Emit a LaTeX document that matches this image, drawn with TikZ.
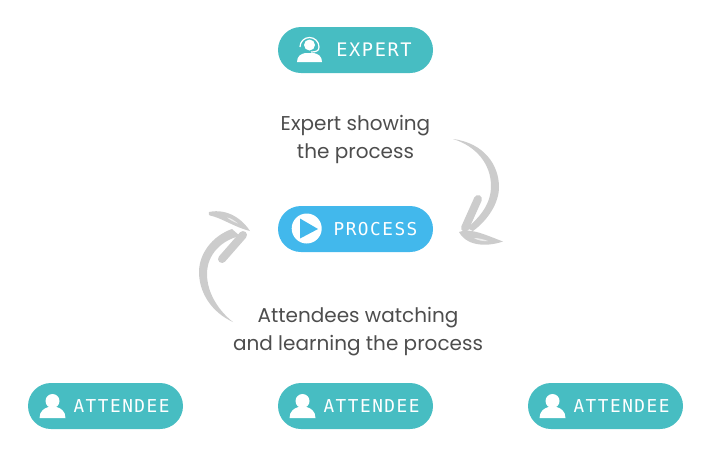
\documentclass[tikz,border=0pt]{standalone}
\usepackage{fontspec}
\setmainfont{Poppins}
\newfontfamily\buttonfont[LetterSpace=8.5]{DejaVu Sans Mono}
\definecolor{tealpill}{HTML}{47BDC2}
\definecolor{bluepill}{HTML}{42B8EC}
\definecolor{sketch}{HTML}{CCCCCC}
\definecolor{caption}{HTML}{4D4D4D}
\newcommand{\personicon}[2]{
	\fill [white] (#1,#2-5) circle (7);
	\fill [white] (#1-13,#2+12) .. controls (#1-13,#2+5) and (#1-8,#2+2) .. (#1-4,#2+1) -- (#1+4,#2+1) .. controls (#1+8,#2+2) and (#1+13,#2+5) .. (#1+13,#2+12) -- cycle;
}
\begin{document}
\begin{tikzpicture}[x=0.75pt,y=-0.75pt]
		\tikzstyle{pill}=[rounded corners=17.25pt,minimum width=116.25pt,minimum height=34.5pt,inner sep=0pt]
		\tikzstyle{teal-pill}=[pill,fill=tealpill]
		\tikzstyle{blue-pill}=[pill,fill=bluepill]
		\tikzstyle{pill-text}=[text=white,font=\buttonfont\fontsize{13.3}{15}\selectfont,inner sep=0pt]
		\tikzstyle{caption-text}=[text=caption,align=center,font=\fontsize{15}{21}\selectfont,inner sep=0pt]
		\useasboundingbox (0,0) rectangle (714,454);
		% expert
		\node [teal-pill] at (355.5,50) (expert) {};
		\node [pill-text,font=\buttonfont\fontsize{14}{15}\selectfont] at (374,50) (expert-text) {EXPERT};
		\fill [white] (309.5,45) circle (5.5);
		\fill [white] (297,62) .. controls (297,56) and (301,54) .. (305,53) -- (314,53) .. controls (318,54) and (322,56) .. (322,62) -- cycle;
		\draw [white,line width=0.9pt] (300,47) arc (180:360:9.5);
		\draw [white,line width=0.9pt] (319,47) .. controls (319,51) and (316,52) .. (311,52);
		% process
		\node [blue-pill] at (355.5,229) (process) {};
		\node [pill-text] at (375.5,229) (process-text) {PROCESS};
		\node [circle,fill=white,minimum size=22.5pt,inner sep=0pt] at (306.7,228.5) (play) {};
		\fill [bluepill] (300,218.5) -- (318,229) -- (300,238.5) -- cycle;
		% attendees
		\node [teal-pill] at (105.5,406) (attendee1) {};
		\node [pill-text] at (121.5,406) (attendee1-text) {ATTENDEE};
		\personicon{52.5}{406}
		\node [teal-pill] at (355.5,406) (attendee2) {};
		\node [pill-text] at (371.5,406) (attendee2-text) {ATTENDEE};
		\personicon{302.5}{406}
		\node [teal-pill] at (605.5,406) (attendee3) {};
		\node [pill-text] at (621.5,406) (attendee3-text) {ATTENDEE};
		\personicon{552.5}{406}
		% captions
		\node [caption-text] at (355.5,139) (showing) {Expert showing\\the process};
		\node [caption-text] at (358,332) (watching) {Attendees watching\\and learning the process};
		% right arrow
		\coordinate (right-start) at (453,139);
		\coordinate (right-tip) at (459,232);
		\fill [sketch] (right-start) .. controls (484,143) and (499,165) .. (499,187) .. controls (499,203) and (488,220) .. (473,231) -- (467,228) .. controls (480,217) and (491,204) .. (491,186) .. controls (491,164) and (476,146) .. (right-start) -- cycle;
		\draw [sketch,line width=6pt,line cap=round] (478,199) -- (465,228);
		\fill [sketch] (right-tip) .. controls (470,227) and (488,236) .. (503,241.5) .. controls (490,246) and (468,248) .. (right-tip) -- cycle;
		\fill [sketch!35] (474,238) .. controls (479,238) and (484,239.5) .. (488,241) .. controls (483,241.5) and (478,240.5) .. (474,238) -- cycle;
		% left arrow
		\coordinate (left-start) at (233,322);
		\coordinate (left-tip) at (250,231);
		\fill [sketch] (left-start) .. controls (211,312) and (199,292) .. (199,272) .. controls (199,254) and (212,236) .. (232,229) -- (240,236) .. controls (222,240) and (207,254) .. (207,274) .. controls (207,294) and (220,312) .. (left-start) -- cycle;
		\draw [sketch,line width=6pt,line cap=round] (222,259) -- (243,235);
		\fill [sketch] (left-tip) .. controls (243,220) and (228,208) .. (209,212) .. controls (208,214) and (209,215) .. (210,215.5) .. controls (222,218) and (234,227) .. (left-tip) -- cycle;
		\fill [sketch!35] (227,217.5) .. controls (231,218) and (235,221) .. (238,223.5) .. controls (234,222) and (230,220) .. (227,217.5) -- cycle;
	\end{tikzpicture}
\end{document}
